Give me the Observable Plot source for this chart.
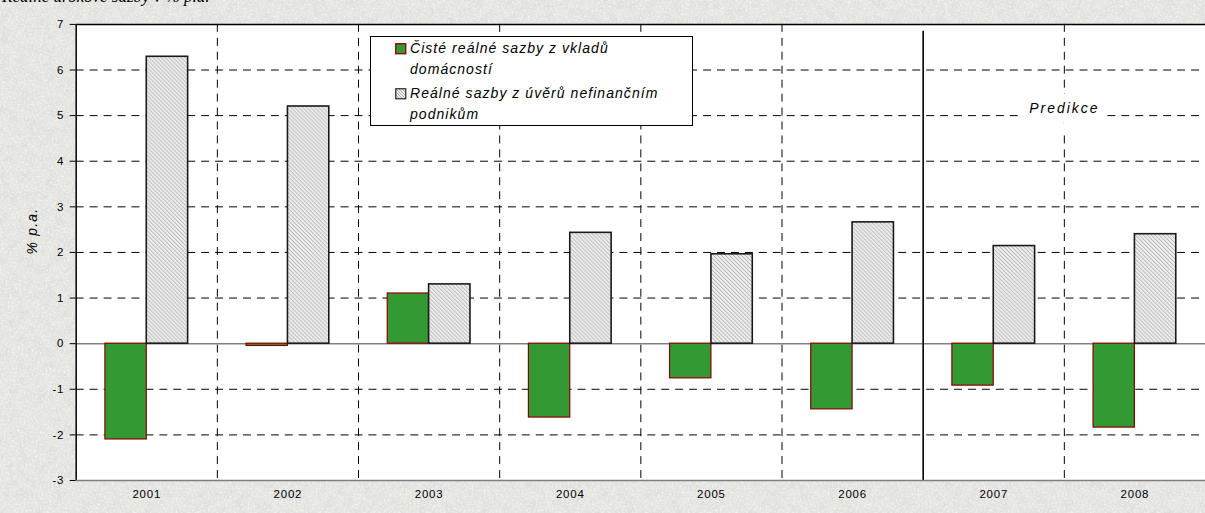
<!DOCTYPE html>
<html>
<head>
<meta charset="utf-8">
<script src="https://cdn.jsdelivr.net/npm/d3@7"></script>
<script src="https://cdn.jsdelivr.net/npm/@observablehq/plot@0.6"></script>
<style>
html, body { margin: 0; padding: 0; width: 1205px; height: 513px; overflow: hidden; }
body { position: relative; background: #e4e4e1; font-family: "Liberation Sans", Arial, sans-serif; }
#bg { position: absolute; left: 0; top: 0; }
#chart { position: absolute; left: 0; top: 0; }
#toptext { position: absolute; left: 2px; top: -13px; font-family: "Liberation Serif", "Times New Roman", serif; font-style: italic; font-size: 17px; color: #000; white-space: nowrap; }
#legend { position: absolute; left: 370px; top: 36px; width: 321px; height: 88px; background: #fff; border: 1px solid #000; }
.item { position: absolute; left: 24px; font-size: 14px; font-style: italic; letter-spacing: 1.05px; line-height: 21px; color: #000; }
.item svg { position: absolute; left: 0; top: 5px; }
.item span { display: block; margin-left: 15px; }
</style>
</head>
<body>
<svg id="bg" width="1205" height="513">
  <filter id="noise" x="0" y="0" width="100%" height="100%">
    <feTurbulence type="fractalNoise" baseFrequency="0.11" numOctaves="4" seed="7"/>
    <feColorMatrix type="matrix" values="0 0 0 0 0.70  0 0 0 0 0.70  0 0 0 0 0.68  1.6 0 0 0 -0.62"/>
  </filter>
  <filter id="noise2" x="0" y="0" width="100%" height="100%">
    <feTurbulence type="fractalNoise" baseFrequency="0.5" numOctaves="2" seed="3"/>
    <feColorMatrix type="matrix" values="0 0 0 0 1  0 0 0 0 1  0 0 0 0 1  1.4 0 0 0 -0.6"/>
  </filter>
  <rect width="1205" height="513" filter="url(#noise)"/>
  <rect width="1205" height="513" filter="url(#noise2)"/>
</svg>
<div id="toptext">Reálné úrokové sazby v % p.a.</div>
<div id="chart"></div>
<div id="legend"></div>
<script>
// ---- data ----
const years = [2001, 2002, 2003, 2004, 2005, 2006, 2007, 2008];
const deposits = [-2.1, -0.05, 1.1, -1.62, -0.76, -1.44, -0.92, -1.84];
const loans = [6.29, 5.2, 1.3, 2.43, 1.96, 2.66, 2.14, 2.4];
const seriesNames = ["Čisté reálné sazby z vkladů domácností", "Reálné sazby z úvěrů nefinančním podnikům"];
const legendLines = [["Čisté reálné sazby z vkladů", "domácností"], ["Reálné sazby z úvěrů nefinančním", "podnikům"]];
const yTicks = [-3, -2, -1, 0, 1, 2, 3, 4, 5, 6, 7];
const firstForecastYear = 2007;
const forecastLabel = "Predikce";
const yLabel = "% p.a.";

// ---- derived ----
const yMin = yTicks[0], yMax = yTicks[yTicks.length - 1];
const barW = 0.293; // bar width as fraction of a year band
const rows = years.map((year, i) => ({year, dep: deposits[i], loan: loans[i]}));
const boundaries = years.slice(1).map(y => y - 0.5);
const forecastBoundary = firstForecastYear - 0.5;
const dashed = "8,6";

const chart = Plot.plot({
  width: 1210,
  height: 513,
  marginLeft: 76,
  marginRight: 0,
  marginTop: 24,
  marginBottom: 31,
  style: {background: "transparent", fontFamily: "'Liberation Sans', Arial, sans-serif", fontSize: "11.5px", color: "#000", overflow: "visible"},
  x: {domain: [years[0] - 0.5, years[years.length - 1] + 0.5]},
  y: {domain: [yMin, yMax]},
  marks: [
    Plot.frame({fill: "#fff", stroke: null}),
    Plot.ruleY(yTicks.filter(v => v !== 0 && v !== yMin && v !== yMax), {stroke: "#000", strokeWidth: 1, strokeDasharray: dashed}),
    Plot.ruleX(boundaries.filter(b => b !== forecastBoundary), {stroke: "#000", strokeWidth: 1, strokeDasharray: dashed}),
    Plot.ruleY([0], {stroke: "#808080", strokeWidth: 1.5}),
    Plot.rectY(rows, {x1: d => d.year - barW, x2: d => d.year, y1: 0, y2: "dep", fill: "#339933", stroke: "#8b0000", strokeWidth: 1.2}),
    Plot.rectY(rows, {x1: d => d.year, x2: d => d.year + barW, y1: 0, y2: "loan", fill: "url(#hatch)", stroke: "#1a1a1a", strokeWidth: 1.6}),
    Plot.ruleX([forecastBoundary], {y1: yMin, y2: yMax, stroke: "#000", strokeWidth: 1.6, insetBottom: -7}),
    Plot.text([forecastLabel], {x: [forecastBoundary + 1], y: [5], dy: -7, text: d => d, fontSize: 14, fontStyle: "italic", fill: "#000", stroke: "#fff", strokeWidth: 16, strokeLinejoin: "miter"}),
    Plot.ruleX([years[0] - 0.5], {y1: yMin, y2: yMax, stroke: "#000", strokeWidth: 1.5}),
    Plot.ruleY([yMax], {stroke: "#000", strokeWidth: 1.5}),
    Plot.ruleY([yMin], {stroke: "#808080", strokeWidth: 1.5}),
    Plot.axisY({ticks: yTicks, tickSize: 6, tickPadding: 6, label: null, tickFormat: d => String(d), fontSize: 11.5}),
    Plot.axisX({ticks: years, tickSize: 0, tickPadding: 9, label: null, tickFormat: d => String(d), fontSize: 11.5}),
    Plot.text([yLabel], {frameAnchor: "left", dx: -44, dy: 2, rotate: -90, text: d => d, fontSize: 14, fontStyle: "italic"})
  ]
});

// hatch pattern
d3.select(chart).insert("defs", ":first-child").html(
  `<pattern id="hatch" patternUnits="userSpaceOnUse" width="4" height="4">
     <rect width="4" height="4" fill="#ececec"/>
     <path d="M-1,-1 L5,5 M-1,3 L1,5 M3,-1 L5,1" stroke="#a8a8a8" stroke-width="0.9"/>
   </pattern>`
);
// Excel-like letter spacing for texts
const sel = d3.select(chart);
sel.selectAll("text").filter(function() { return this.textContent === forecastLabel; }).style("letter-spacing", "2px");
sel.selectAll("text").filter(function() { return this.textContent === yLabel; }).style("letter-spacing", "1.2px");
sel.selectAll("g[aria-label='x-axis tick label'] text, g[aria-label='y-axis tick label'] text").style("letter-spacing", "0.8px");
document.getElementById("chart").appendChild(chart);

// legend
const legend = d3.select("#legend");
const swatches = [
  {fill: "#339933", stroke: "#8b0000"},
  {fill: "url(#hatchL)", stroke: "#333"}
];
const tops = [1, 46];
legendLines.forEach((lines, i) => {
  const item = legend.append("div").attr("class", "item").style("top", tops[i] + "px").attr("title", seriesNames[i]);
  const sw = item.append("svg").attr("width", 12).attr("height", 12);
  if (i === 1) {
    sw.append("defs").html(`<pattern id="hatchL" patternUnits="userSpaceOnUse" width="3" height="3">
      <rect width="3" height="3" fill="#ececec"/><path d="M-1,-1 L4,4 M-1,2 L1,4 M2,-1 L4,1" stroke="#a0a0a0" stroke-width="0.8"/></pattern>`);
  }
  sw.append("rect").attr("x", 0.75).attr("y", 0.75).attr("width", 10).attr("height", 10)
    .attr("fill", swatches[i].fill).attr("stroke", swatches[i].stroke).attr("stroke-width", 1.3);
  lines.forEach(l => item.append("span").text(l));
});
</script>
</body>
</html>
